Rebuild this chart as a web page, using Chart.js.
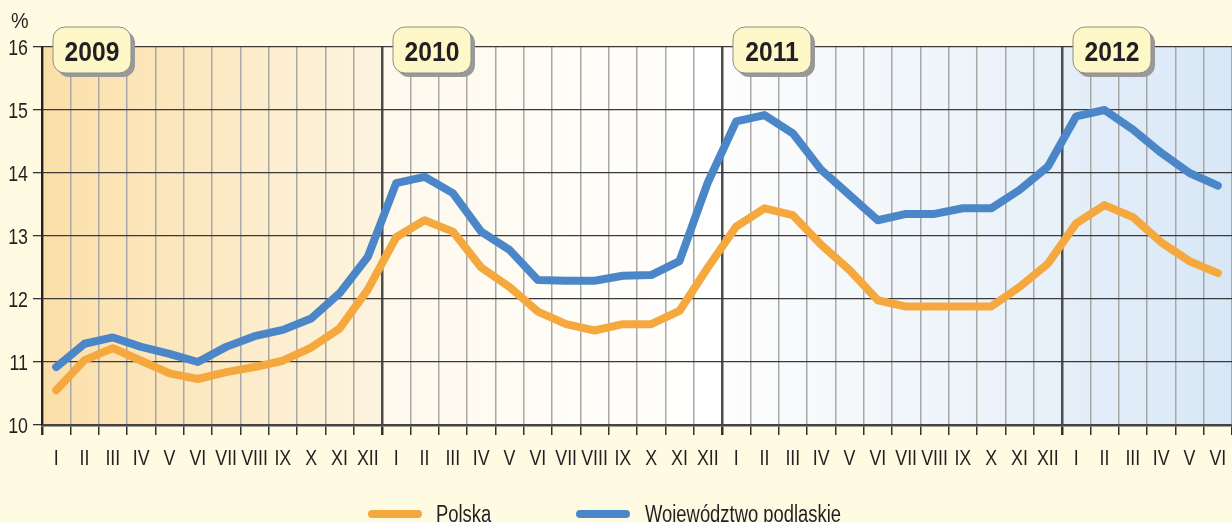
<!DOCTYPE html>
<html>
<head>
<meta charset="utf-8">
<script src="https://cdn.jsdelivr.net/npm/chart.js@4"></script>
<style>
  html, body { margin: 0; padding: 0; background: #fffbe2; }
  #wrap { width: 1232px; height: 522px; }
</style>
</head>
<body>
<div id="wrap"><canvas id="chart" width="1232" height="522"></canvas></div>
<script>
// ===== Data =====
const years = ['2009', '2010', '2011', '2012'];
const months = ['I', 'II', 'III', 'IV', 'V', 'VI', 'VII', 'VIII', 'IX', 'X', 'XI', 'XII'];
const monthsLast = ['I', 'II', 'III', 'IV', 'V', 'VI'];
const yTicks = [10, 11, 12, 13, 14, 15, 16];

const polska = [
    10.55, 11.03, 11.22, 11.02, 10.82, 10.73, 10.84, 10.92, 11.02, 11.23, 11.53, 12.15,
    12.98, 13.25, 13.07, 12.50, 12.19, 11.80, 11.60, 11.50, 11.60, 11.60, 11.81, 12.50,
    13.15, 13.44, 13.33, 12.86, 12.46, 11.98, 11.88, 11.88, 11.88, 11.88, 12.19, 12.56,
    13.20, 13.49, 13.30, 12.90, 12.60, 12.41
];
const podlaskie = [
    10.92, 11.29, 11.39, 11.24, 11.13, 11.00, 11.24, 11.41, 11.51, 11.69, 12.09, 12.67,
    13.84, 13.94, 13.68, 13.07, 12.78, 12.30, 12.29, 12.29, 12.37, 12.38, 12.60, 13.85,
    14.82, 14.92, 14.63, 14.05, 13.65, 13.25, 13.35, 13.35, 13.44, 13.44, 13.73, 14.10,
    14.90, 15.00, 14.69, 14.32, 14.00, 13.80
];
const seriesNames = ['Polska', 'Województwo podlaskie'];

const labels = months.concat(months, months, monthsLast);

// ===== Styles =====
const FONT = "'Liberation Sans', Arial, sans-serif";
const TEXT = '#231f20';
const ORANGE = '#f5a83d';
const BLUE = '#4b87c8';
const SQUEEZE = 0.81; // the original uses a condensed face

// draw text squeezed horizontally (no condensed font installed)
function narrowText(ctx, str, x, y, align, font, scale) {
    ctx.save();
    ctx.font = font;
    ctx.textAlign = align;
    ctx.textBaseline = 'alphabetic';
    ctx.translate(x, y);
    ctx.scale(scale || SQUEEZE, 1);
    ctx.fillText(str, 0, 0);
    ctx.restore();
}

// background gradient + page colour
const backgroundPlugin = {
    id: 'bg',
    beforeDraw(chart) {
        const { ctx, chartArea: a } = chart;
        ctx.save();
        ctx.fillStyle = '#fffbe2';
        ctx.fillRect(0, 0, chart.width, chart.height);
        const g = ctx.createLinearGradient(a.left, 0, a.right, 0);
        const n = labels.length;
        g.addColorStop(0, '#fbdfa9');
        g.addColorStop(12 / n - 0.001, '#fdf4df');
        g.addColorStop(12 / n, '#fef9ec');
        g.addColorStop(24 / n - 0.001, '#ffffff');
        g.addColorStop(24 / n, '#fdfdfc');
        g.addColorStop(36 / n - 0.001, '#e7f0f9');
        g.addColorStop(36 / n, '#e5eff9');
        g.addColorStop(1, '#d8e7f6');
        ctx.fillStyle = g;
        ctx.fillRect(a.left, a.top, a.right - a.left, a.bottom - a.top);
        ctx.restore();
    }
};

function roundRect(ctx, x, y, w, h, r) {
    ctx.beginPath();
    ctx.moveTo(x + r, y);
    ctx.arcTo(x + w, y, x + w, y + h, r);
    ctx.arcTo(x + w, y + h, x, y + h, r);
    ctx.arcTo(x, y + h, x, y, r);
    ctx.arcTo(x, y, x + w, y, r);
    ctx.closePath();
}

// tick labels, year boxes, % label, legend
const overlayPlugin = {
    id: 'overlay',
    afterDraw(chart) {
        const { ctx, chartArea: a } = chart;
        const xs = chart.scales.x;
        const ys = chart.scales.y;
        const cell = (a.right - a.left) / labels.length;
        ctx.save();
        ctx.fillStyle = TEXT;

        // axis labels from the library's scales
        xs.ticks.forEach((t, i) => {
            narrowText(ctx, labels[i], xs.getPixelForTick(i), 465, 'center', '22px ' + FONT);
        });
        ys.ticks.forEach(t => {
            narrowText(ctx, String(t.value), 28, ys.getPixelForValue(t.value) + 8, 'right', '22px ' + FONT);
        });
        narrowText(ctx, '%', 11, 28, 'left', '22px ' + FONT, 0.9);

        years.forEach((yr, i) => {
            const x = a.left + i * 12 * cell + 11;
            const y = 27, w = 78, h = 46;
            ctx.fillStyle = '#999999';
            roundRect(ctx, x + 4, y + 4, w, h, 12);
            ctx.fill();
            ctx.fillStyle = '#fef8c9';
            ctx.strokeStyle = '#8c8c8c';
            ctx.lineWidth = 1;
            roundRect(ctx, x, y, w, h, 12);
            ctx.fill();
            ctx.stroke();
            ctx.fillStyle = TEXT;
            narrowText(ctx, yr, x + w / 2, y + 34, 'center', 'bold 28px ' + FONT, 0.88);
        });

        // legend
        const items = [
            { name: seriesNames[0], color: ORANGE, x0: 372, x1: 418, tx: 436 },
            { name: seriesNames[1], color: BLUE, x0: 580, x1: 626, tx: 645 }
        ];
        items.forEach(it => {
            ctx.strokeStyle = it.color;
            ctx.lineWidth = 8;
            ctx.lineCap = 'round';
            ctx.beginPath();
            ctx.moveTo(it.x0, 514);
            ctx.lineTo(it.x1, 514);
            ctx.stroke();
            ctx.fillStyle = TEXT;
            narrowText(ctx, it.name, it.tx, 522, 'left', '23px ' + FONT, 0.8);
        });
        ctx.restore();
    }
};

new Chart(document.getElementById('chart'), {
    type: 'line',
    data: {
        labels,
        datasets: [
            {
                label: seriesNames[0],
                data: polska,
                borderColor: ORANGE,
                borderWidth: 8,
                borderCapStyle: 'round',
                borderJoinStyle: 'round',
                pointRadius: 0,
                tension: 0
            },
            {
                label: seriesNames[1],
                data: podlaskie,
                borderColor: BLUE,
                borderWidth: 8,
                borderCapStyle: 'round',
                borderJoinStyle: 'round',
                pointRadius: 0,
                tension: 0
            }
        ]
    },
    options: {
        responsive: false,
        animation: false,
        devicePixelRatio: 1,
        layout: { padding: { top: 47, left: 0, right: 0, bottom: 0 } },
        plugins: {
            legend: { display: false },
            tooltip: { enabled: false }
        },
        scales: {
            x: {
                type: 'category',
                offset: true,
                afterFit: s => { s.height = 97; },
                grid: {
                    offset: true,
                    drawOnChartArea: true,
                    color: c => (c.index % 12 === 0 ? '#4d4d4d' : '#a8a8a8'),
                    lineWidth: c => (c.index % 12 === 0 ? 2.5 : 1.5),
                    tickColor: '#333',
                    tickWidth: c => (c.index % 12 === 0 ? 2.5 : 1.5),
                    tickLength: 10
                },
                border: { display: true, color: '#444', width: 2.5 },
                ticks: { display: false, autoSkip: false }
            },
            y: {
                min: 10,
                max: 16,
                afterFit: s => { s.width = 42; },
                afterBuildTicks: s => { s.ticks = yTicks.map(v => ({ value: v })); },
                grid: {
                    color: '#3a3a3a',
                    lineWidth: 1.3,
                    tickColor: '#333',
                    tickLength: 9
                },
                border: { display: true, color: '#222', width: 2 },
                ticks: { display: false }
            }
        }
    },
    plugins: [backgroundPlugin, overlayPlugin]
});
</script>
</body>
</html>
